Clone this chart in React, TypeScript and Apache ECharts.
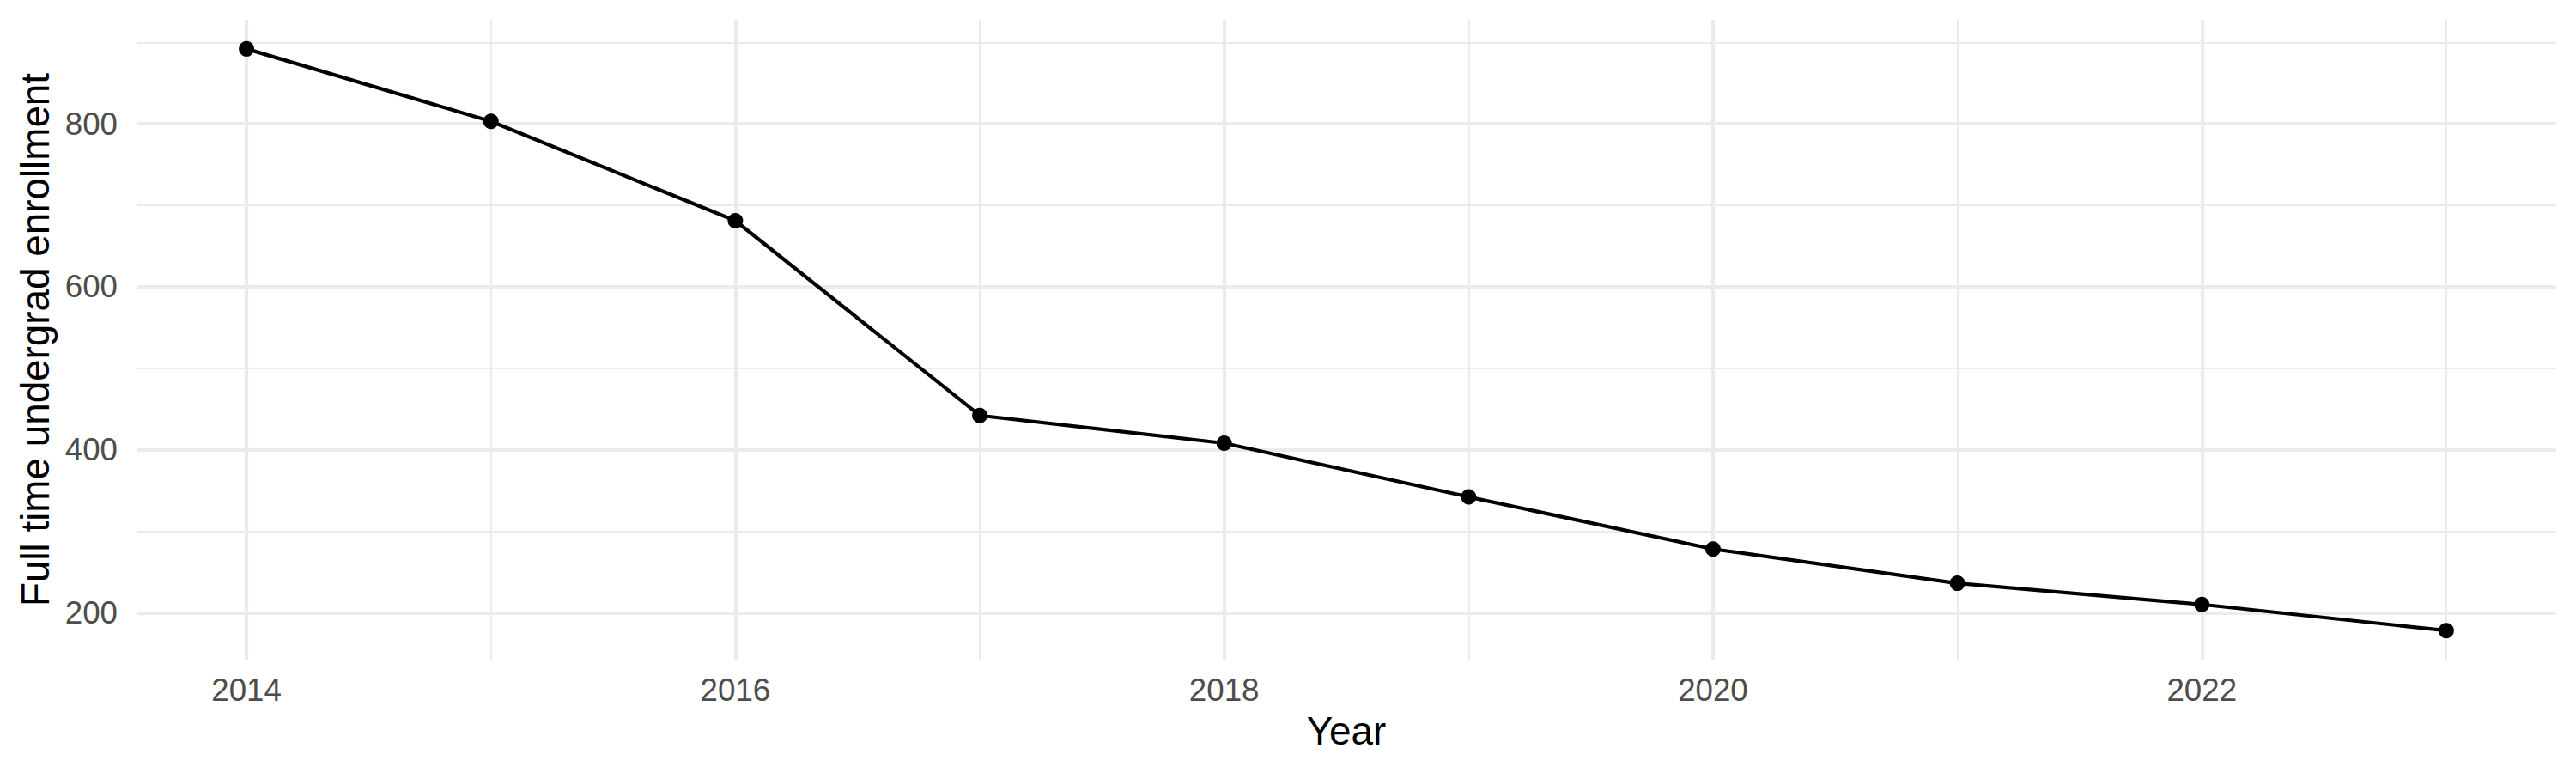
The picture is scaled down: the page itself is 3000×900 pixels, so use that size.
import React, { useEffect, useRef } from "react";
import * as echarts from "echarts";

const years = [2014, 2015, 2016, 2017, 2018, 2019, 2020, 2021, 2022, 2023];
const enrollment = [892, 803, 681, 442, 408, 342, 278, 236, 210, 178];
const xTitle = "Year";
const yTitle = "Full time undergrad enrollment";

const FONT = "'Liberation Sans', Arial, Helvetica, sans-serif";
const GRID = "#ebebeb";
const TICK = "#4d4d4d";

export default function App() {
  const ref = useRef<HTMLDivElement>(null);

  useEffect(() => {
    document.body.style.margin = "0";
    if (!ref.current) return;
    const chart = echarts.init(ref.current, undefined, { renderer: "svg" });
    const pad = (e: { min: number; max: number }, s: number) => (e.max - e.min) * 0.05 * s;

    const axisCommon = {
      axisLine: { show: false },
      axisTick: { show: false },
      minorTick: { show: false, splitNumber: 2 },
      splitLine: {
        show: true,
        showMinLine: false,
        showMaxLine: false,
        lineStyle: { color: GRID, width: 4.2 },
      },
      minorSplitLine: { show: true, lineStyle: { color: GRID, width: 2.1 } },
    };

    chart.setOption({
      animation: false,
      backgroundColor: "#ffffff",
      textStyle: { fontFamily: FONT },
      grid: { left: 159, right: 23, top: 23, bottom: 132, containLabel: false },
      xAxis: {
        type: "value",
        ...axisCommon,
        min: (e: { min: number; max: number }) => e.min - pad(e, 1),
        max: (e: { min: number; max: number }) => e.max + pad(e, 1),
        splitNumber: 5,
        name: xTitle,
        nameLocation: "middle",
        nameGap: 60,
        nameTextStyle: { color: "#000000", fontSize: 45.8, fontFamily: FONT },
        axisLabel: {
          show: true,
          showMinLabel: false,
          showMaxLabel: false,
          margin: 17,
          color: TICK,
          fontSize: 36.7,
          fontFamily: FONT,
          formatter: (v: number) => String(v),
        },
      },
      yAxis: {
        type: "value",
        ...axisCommon,
        min: (e: { min: number; max: number }) => e.min - pad(e, 1),
        max: (e: { min: number; max: number }) => e.max + pad(e, 1),
        splitNumber: 5,
        name: yTitle,
        nameLocation: "middle",
        nameGap: 95,
        nameRotate: 90,
        nameTextStyle: { color: "#000000", fontSize: 45.8, fontFamily: FONT },
        axisLabel: {
          show: true,
          showMinLabel: false,
          showMaxLabel: false,
          margin: 22,
          color: TICK,
          fontSize: 36.7,
          fontFamily: FONT,
          formatter: (v: number) => String(v),
        },
      },
      series: [
        {
          type: "line",
          data: years.map((y, i) => [y, enrollment[i]]),
          symbol: "circle",
          symbolSize: 18,
          showAllSymbol: true,
          lineStyle: { color: "#000000", width: 4.2 },
          itemStyle: { color: "#000000" },
          emphasis: { disabled: true },
        },
      ],
    });

    return () => chart.dispose();
  }, []);

  return <div ref={ref} style={{ width: 3000, height: 900 }} />;
}
